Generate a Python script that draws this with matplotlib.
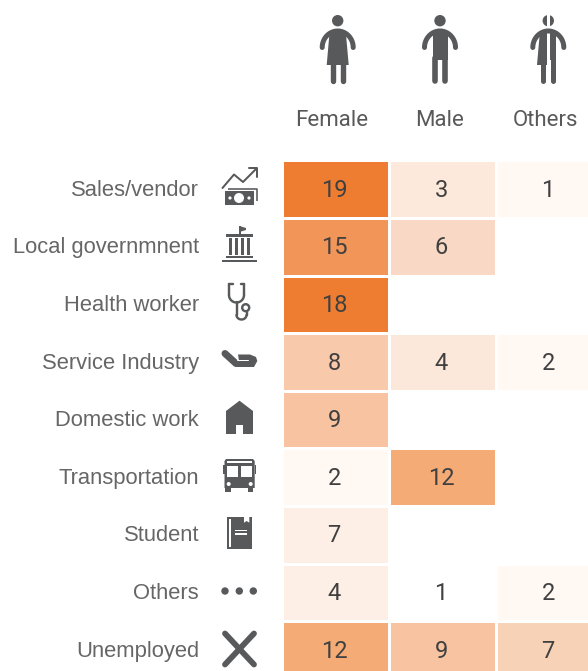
#!/usr/bin/python3
import numpy as np
from matplotlib import pyplot as plt
from matplotlib.patches import Circle, Polygon, Rectangle

W = 588
H = 671
GREY = '#58595b'
TEXT = '#595959'

occupations = ['Sales/vendor', 'Local governmnent', 'Health worker', 'Service Industry',
               'Domestic work', 'Transportation', 'Student', 'Others', 'Unemployed']
genders = ['Female', 'Male', 'Others']
female = [19, 15, 18, 8, 9, 2, 7, 4, 12]
male = [3, 6, np.nan, 4, np.nan, 12, np.nan, 1, 9]
others = [1, np.nan, np.nan, 2, np.nan, np.nan, np.nan, 2, 7]

# shading in the source is not a strict function of the count
female_colors = ['#ee7d31', '#f29558', '#ee7d31', '#f8caab', '#f7c3a0', '#fff8f3', '#feefe6', '#feefe6', '#f5ab76']
male_colors = ['#fce9dc', '#f9d9c5', 'white', '#fce8da', 'white', '#f5ab76', 'white', 'white', '#f7c3a0']
others_colors = ['#fff8f3', 'white', 'white', '#fff8f3', 'white', 'white', 'white', '#fff8f3', '#f8d2b6']

plt.rcParams['font.family'] = ['Roboto', 'DejaVu Sans']

fig = plt.figure(figsize=(W / 100, H / 100), dpi=100, facecolor='white')

# heatmap axes, data units are cells
CELL_W = 107
CELL_H = 57.6
X0 = 281.7
Y0 = 160.4
hm = fig.add_axes([X0 / W, 0, (W - X0) / W, (H - Y0) / H])
hm.set_xlim(0, (W - X0) / CELL_W)
hm.set_ylim((H - Y0) / CELL_H, 0)
hm.axis('off')
values = np.array([female, male, others]).T
colors = np.array([female_colors, male_colors, others_colors]).T
for r in range(values.shape[0]):
    for c in range(values.shape[1]):
        if np.isnan(values[r, c]):
            continue
        hm.add_patch(Rectangle((c, r), 1, 1, fc=colors[r, c], ec='white', lw=2.16))
        hm.text(c + 0.49, r + 0.52, '%d' % values[r, c], ha='center', va='center',
                fontsize=17, color='#404040')

# overlay in pixel coordinates for labels and icons
ax = fig.add_axes([0, 0, 1, 1])
ax.set_xlim(0, W)
ax.set_ylim(H, 0)
ax.axis('off')
ax.patch.set_alpha(0)

for i, name in enumerate(occupations):
    ax.text(199, Y0 + CELL_H * (i + 0.5) + 1, name, ha='right', va='center', fontsize=15.8,
            color='#666666', family='Liberation Sans')
for name, x in zip(genders, [332, 440, 545]):
    ax.text(x, 121, name, ha='center', va='center', fontsize=16, color=TEXT)


def stroke(xs, ys, px, color=GREY, cap='round'):
    ax.plot(xs, ys, color=color, lw=px * 0.72, solid_capstyle=cap, solid_joinstyle='round')


def rect(x0, y0, x1, y1, color=GREY):
    ax.add_patch(Rectangle((x0, y0), x1 - x0, y1 - y0, fc=color, ec='none'))


def dot(x, y, r, color=GREY):
    ax.add_patch(Circle((x, y), r, fc=color, ec='none'))


def poly(pts, color=GREY):
    ax.add_patch(Polygon(pts, closed=True, fc=color, ec='none'))


def arc(cx, cy, rx, ry, a0, a1, px):
    t = np.radians(np.linspace(a0, a1, 40))
    stroke(cx + rx * np.cos(t), cy - ry * np.sin(t), px)


def shoulders(cx):
    arc(cx, 47.5, 15.5, 16.5, 0, 180, 5)


def icon_female(cx):
    dot(cx, 20.7, 5.7)
    shoulders(cx)
    poly([(cx - 8, 31), (cx + 8, 31), (cx + 11, 65), (cx - 11, 65)])
    stroke([cx - 5, cx - 5], [64, 81], 5.4)
    stroke([cx + 5, cx + 5], [64, 81], 5.4)


def icon_male(cx):
    dot(cx, 20.7, 5.7)
    shoulders(cx)
    rect(cx - 7.5, 31, cx + 7.5, 60)
    stroke([cx - 4.6, cx - 4.6], [58, 81], 5.6)
    stroke([cx + 4.6, cx + 4.6], [58, 81], 5.6)


def icon_other(cx):
    dot(cx, 20.7, 5.7)
    shoulders(cx)
    poly([(cx - 8, 31), (cx, 31), (cx, 65), (cx - 11, 65)])
    rect(cx, 31, cx + 7.5, 60)
    stroke([cx - 5, cx - 5], [64, 81], 5)
    stroke([cx + 5, cx + 5], [58, 81], 5)
    rect(cx - 1.2, 12, cx + 1.2, 84, color='white')


def icon_sales():
    stroke([222.5, 234, 243, 256], [188, 174.5, 182, 169], 2)
    stroke([248.5, 257, 257], [168, 168, 177], 2)
    rect(225.3, 191, 254, 205)
    dot(239, 198, 5, 'white')
    dot(230, 198, 1.6, 'white')
    dot(249, 198, 1.6, 'white')
    stroke([228, 257, 257], [188.5, 188.5, 201], 1.6, cap='butt')


def icon_gov():
    stroke([239.5, 239.5], [226, 235], 2, cap='butt')
    poly([(239.5, 226), (246, 228), (246, 230), (239.5, 232)])
    rect(226, 234, 252.7, 236.7)
    for x in [229, 235, 241, 247]:
        rect(x, 238, x + 3.3, 254.5)
    rect(226, 256, 252.7, 258)
    rect(222, 260.3, 257.3, 262.3)


def icon_health():
    stroke([229, 229], [284, 295], 2.4)
    stroke([244, 244], [284, 295], 2.4)
    stroke([229, 232.5], [284, 284], 2.4)
    stroke([244, 240.5], [284, 284], 2.4)
    arc(236.5, 295, 7.5, 7.5, 180, 360, 2.4)
    stroke([236.5, 236.5], [302, 315], 2.4)
    arc(241.5, 315, 5, 4.5, 180, 360, 2.4)
    stroke([246.5, 246.5], [315, 312], 2.4)
    ax.add_patch(Circle((245.7, 307.7), 3.5, fc='none', ec=GREY, lw=2.4 * 0.72))


def icon_hand():
    stroke([225, 236, 250], [353.5, 363.5, 363.5], 7)
    poly([(238, 354.5), (250, 354.5), (256, 357), (257.3, 361), (254, 367), (240, 367)])
    stroke([237, 248], [360, 360], 1, color='white')


def icon_house():
    poly([(226, 411), (239.5, 400.7), (253, 411), (253, 434), (243, 434), (243, 425),
          (236, 425), (236, 434), (226, 434)])


def icon_bus():
    poly([(226, 459), (253, 459), (254.7, 461), (254.7, 488), (224.5, 488), (224.5, 461)])
    rect(226.7, 466, 238.3, 476.7, 'white')
    rect(241, 466, 252.3, 476.7, 'white')
    rect(226.7, 461, 252.3, 462.7, 'white')
    dot(228.7, 484, 2, 'white')
    dot(250.7, 484, 2, 'white')
    rect(225.3, 488, 230.7, 492)
    rect(248, 488, 253.3, 492)
    rect(222.7, 465, 224.5, 474)
    rect(254.7, 465, 256, 474)


def icon_book():
    rect(226.7, 517, 252.3, 549)
    rect(229.3, 519, 231, 547, 'white')
    poly([(244, 517), (249.3, 517), (249.3, 522.7), (246.6, 521), (244, 522.7)], 'white')
    rect(235, 530, 246.7, 531.3, 'white')
    rect(235, 533.3, 246.7, 534.7, 'white')


def icon_dots():
    for x in [225, 239.3, 253.3]:
        dot(x, 591, 3.7)


def icon_cross():
    stroke([225, 254], [633.5, 664.5], 5.8)
    stroke([254, 225], [633.5, 664.5], 5.8)


icon_female(337.7)
icon_male(440)
icon_other(548.3)
icon_sales()
icon_gov()
icon_health()
icon_hand()
icon_house()
icon_bus()
icon_book()
icon_dots()
icon_cross()

fig.savefig('out.png', dpi=100)
